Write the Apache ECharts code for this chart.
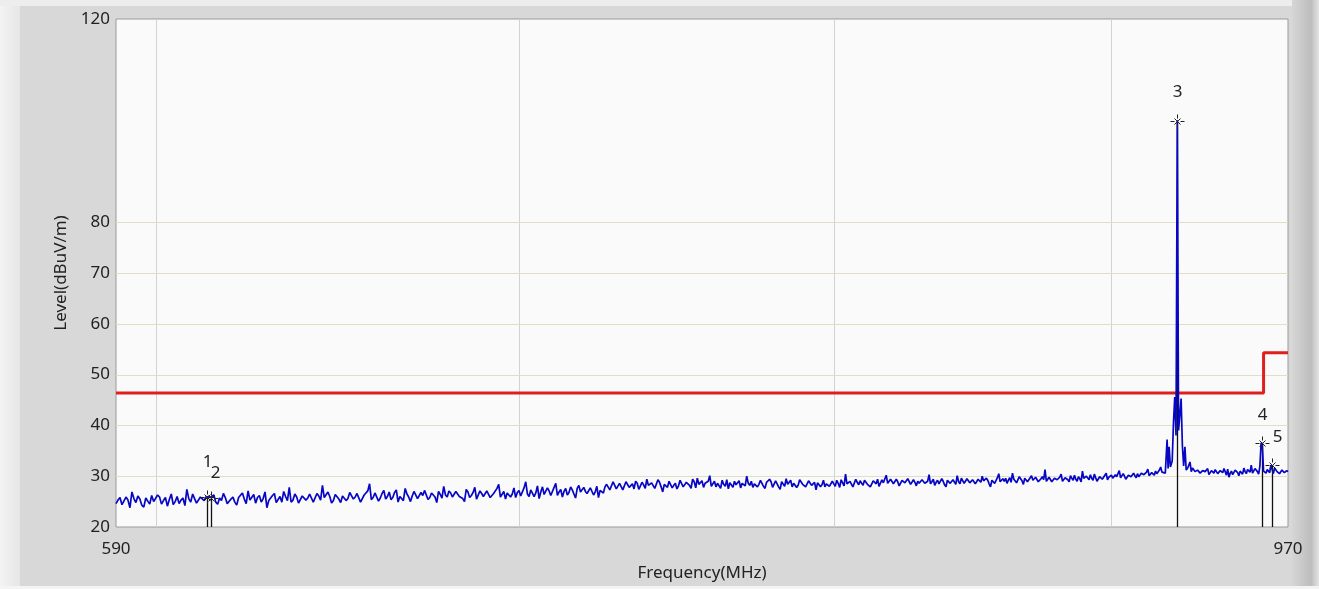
<!DOCTYPE html>
<html><head><meta charset="utf-8">
<script src="https://cdn.jsdelivr.net/npm/echarts@6/dist/echarts.min.js"></script>
<style>html,body{margin:0;padding:0;background:#d8d8d8}#c{width:1319px;height:589px}</style>
</head><body><div id="c"></div>
<script>
// ---------------- data ----------------
const freqMinMHz = 590, freqMaxMHz = 970;
const levelMin = 20, levelMax = 120;
const yTickLabels = [20, 30, 40, 50, 60, 70, 80, 120];
const xTickLabels = [590, 970];
const vGridFreqs = [600, 700, 800, 900];
const hGridLevels = [30, 40, 50, 60, 70, 80];

// measured trace, whole-MHz points 590 .. 919 MHz
const lowTraceStart = 590;
const lowTraceLevels = [
  24.6, 25.8, 24.2, 25.3, 26.9, 24.8, 25.5, 23.9, 25.1, 26.2,
  24.7, 25.9, 25.2, 24.1, 26.5, 25.0, 24.6, 25.7, 27.4, 24.9,
  25.6, 24.8, 26.1, 26.0, 25.8, 26.3, 24.5, 25.2, 25.8, 24.9,
  25.9, 24.3, 26.0, 25.5, 27.1, 25.0, 24.7, 26.2, 25.6, 23.8,
  25.4, 26.6, 25.1, 24.9, 26.0, 27.8, 25.3, 25.9, 24.6, 26.4,
  25.7, 26.3, 24.9, 26.1, 28.2, 25.5, 26.0, 25.2, 26.7, 24.8,
  26.3, 25.6, 27.0, 25.9, 26.5, 24.7, 26.2, 28.5, 25.8, 26.4,
  25.7, 27.2, 26.0, 25.4, 26.8, 24.9, 26.3, 27.6, 25.9, 26.1,
  26.9, 25.3, 26.2, 27.5, 25.8, 26.6, 24.8, 26.4, 28.0, 25.9,
  26.7, 25.6, 27.3, 26.1, 25.0, 26.9, 26.2, 27.8, 25.4, 26.6,
  26.3, 27.4, 25.9, 26.8, 28.4, 26.1, 25.5, 27.0, 26.5, 25.8,
  27.2, 26.4, 28.9, 26.0, 27.5, 26.7, 25.6, 27.9, 26.3, 27.1,
  26.5, 28.6, 26.9, 25.9, 27.6, 26.8, 27.3, 25.7, 28.2, 26.6,
  27.0, 26.4, 27.8, 26.9, 25.8, 27.4, 27.9, 28.3, 27.6, 28.8,
  27.7, 28.4, 27.2, 29.1, 28.0, 27.5, 28.6, 27.1, 28.3, 29.4,
  27.9, 28.5, 27.4, 28.8, 26.9, 28.3, 29.0, 27.7, 28.6, 28.1,
  29.3, 28.0, 28.7, 27.6, 28.9, 29.6, 28.2, 27.8, 28.5, 30.1,
  28.3, 27.9, 28.8, 29.2, 28.0, 27.5, 28.6, 29.0, 28.4, 27.7,
  28.9, 30.0, 28.2, 27.8, 28.7, 28.4, 29.3, 27.6, 28.5, 28.9,
  28.1, 28.8, 27.4, 28.6, 29.5, 28.3, 27.9, 28.7, 28.2, 29.0,
  28.4, 27.7, 28.9, 28.0, 27.3, 28.6, 28.3, 27.9, 28.8, 28.1,
  28.5, 29.2, 27.8, 28.7, 30.4, 28.3, 28.9, 27.6, 28.8, 29.1,
  28.2, 29.0, 28.6, 27.7, 28.9, 29.4, 28.1, 28.7, 30.2, 28.4,
  29.1, 28.3, 28.9, 27.9, 29.3, 28.6, 29.8, 28.2, 28.8, 29.0,
  28.4, 29.5, 28.7, 30.3, 28.9, 28.2, 29.2, 28.6, 29.0, 27.9,
  29.4, 28.7, 29.1, 30.1, 28.5, 29.3, 28.8, 29.6, 28.4, 29.0,
  28.7, 29.5, 30.0, 28.9, 29.2, 27.9, 29.4, 28.8, 30.5, 29.1,
  29.0, 28.6, 29.7, 30.6, 29.2, 28.9, 29.5, 28.4, 29.8, 29.3,
  30.1, 29.0, 29.6, 28.7, 29.9, 31.3, 29.2, 29.5, 28.8, 29.7,
  29.3, 30.4, 29.1, 29.8, 28.9, 29.6, 30.2, 29.0, 29.5, 31.0,
  29.4, 29.9, 30.3, 29.2, 29.7, 28.8, 30.0, 29.5, 30.6, 29.8,
  30.2, 29.5, 29.9, 31.1, 29.6, 30.0, 29.3, 30.4, 29.8, 30.1,
  30.5, 29.8, 30.9, 30.2, 31.4, 30.0, 30.6, 31.0, 30.4, 31.8
];
// half-MHz points 590.5 .. 919.5 MHz
const lowTraceHalfLevels = [
  25.3, 24.4, 25.9, 23.8, 25.6, 26.1, 24.3, 25.7, 24.5, 25.0,
  26.3, 24.5, 25.8, 25.4, 24.4, 26.0, 25.3, 24.2, 25.6, 26.5,
  24.7, 25.9, 25.2, 25.9, 26.0, 24.9, 25.7, 26.6, 24.6, 25.5,
  24.9, 25.8, 26.7, 24.6, 25.3, 26.4, 25.8, 24.9, 26.9, 25.2,
  26.2, 24.8, 26.0, 27.0, 25.2, 24.9, 26.5, 24.7, 26.1, 25.3,
  26.5, 24.9, 26.6, 25.3, 25.8, 26.9, 24.7, 26.4, 25.5, 26.1,
  25.2, 26.8, 25.5, 26.6, 24.9, 26.3, 27.1, 25.4, 26.7, 25.1,
  26.6, 25.5, 26.9, 25.8, 27.3, 26.0, 25.2, 26.5, 25.0, 27.0,
  25.6, 26.8, 27.2, 25.4, 26.7, 25.9, 27.0, 25.7, 26.3, 27.1,
  25.9, 27.0, 26.0, 25.6, 27.4, 25.8, 26.8, 25.5, 27.1, 26.0,
  27.1, 25.8, 26.6, 27.6, 25.9, 27.0, 26.7, 25.9, 27.7, 26.8,
  26.1, 27.7, 26.5, 27.3, 26.0, 28.1, 26.9, 26.4, 27.7, 26.2,
  27.8, 26.2, 27.4, 27.0, 26.3, 27.9, 26.5, 27.6, 26.9, 27.8,
  26.6, 27.7, 26.3, 28.0, 27.2, 26.7, 28.4, 27.3, 28.9, 27.5,
  28.6, 27.3, 28.9, 27.8, 28.5, 29.0, 27.4, 28.8, 27.6, 28.2,
  28.7, 27.6, 29.3, 27.9, 28.4, 27.8, 28.9, 28.2, 27.5, 29.2,
  27.9, 28.8, 28.2, 29.4, 27.7, 28.4, 29.1, 28.6, 29.0, 28.0,
  29.0, 28.6, 27.6, 28.4, 29.3, 28.7, 27.8, 28.3, 29.1, 28.6,
  28.1, 28.6, 29.0, 28.5, 27.9, 29.2, 28.0, 28.8, 29.4, 27.8,
  29.1, 27.9, 28.9, 28.0, 28.4, 29.2, 28.6, 27.8, 29.3, 28.4,
  27.9, 29.1, 28.2, 28.8, 28.7, 27.9, 29.2, 28.5, 28.0, 29.0,
  28.0, 28.6, 29.3, 28.1, 28.5, 29.0, 27.9, 29.4, 28.3, 28.6,
  29.2, 28.4, 27.9, 29.1, 28.5, 28.0, 29.3, 28.4, 28.6, 29.4,
  28.5, 29.4, 28.1, 29.2, 28.7, 29.5, 28.4, 29.3, 28.1, 28.6,
  29.3, 28.6, 29.0, 28.5, 29.4, 28.8, 28.5, 29.5, 28.3, 29.2,
  28.6, 29.3, 28.4, 28.9, 29.6, 28.6, 29.5, 28.7, 29.3, 28.5,
  29.4, 28.8, 29.1, 29.6, 28.5, 29.2, 28.6, 29.7, 28.9, 29.5,
  29.6, 29.2, 28.8, 29.4, 28.7, 29.9, 29.1, 29.6, 28.9, 29.7,
  29.2, 29.8, 28.9, 29.5, 29.3, 29.0, 29.8, 28.9, 29.6, 29.3,
  29.8, 29.0, 29.7, 29.3, 30.1, 29.2, 29.4, 29.9, 28.9, 29.6,
  30.0, 29.3, 29.6, 30.4, 29.0, 29.9, 29.4, 30.2, 29.3, 30.0,
  29.6, 30.3, 29.8, 29.7, 30.5, 29.4, 30.2, 29.9, 30.6, 29.7,
  29.9, 30.6, 30.3, 30.8, 30.1, 30.7, 30.2, 30.5, 31.2, 30.8
];
// emission around 925.5 MHz
const peakFreqs  = [920, 920.8, 921.5, 921.9, 922.3, 922.8, 923.5, 924.0, 924.5, 925.0, 925.5, 926.0, 926.5, 927.0, 927.5, 928.0, 928.5, 929.0, 929.6, 930.5, 931.0, 931.5];
const peakLevels = [31.0, 30.6, 37.2, 31.5, 35.8, 31.8, 33.0, 40.5, 45.6, 38.0, 100.0, 39.0, 42.0, 45.3, 36.0, 32.0, 35.8, 31.2, 31.6, 32.8, 30.9, 31.6];
// whole-MHz points 932 .. 970 MHz
const highTraceStart = 932;
const highTraceLevels = [
  31.3, 30.7, 31.0, 30.5, 31.4, 30.8, 30.3, 31.1, 30.6, 31.2,
  30.4, 30.9, 31.5, 30.2, 29.8, 31.0, 30.6, 31.3, 30.1, 30.8,
  31.6, 30.5, 31.0, 32.2, 30.7, 31.2, 30.4, 36.6, 31.0, 30.6,
  31.2, 32.2, 30.5, 31.4, 30.8, 30.2, 31.1, 30.6, 30.9
];
// half-MHz points 932.5 .. 969.5 MHz
const highTraceHalfLevels = [
  30.9, 31.2, 30.6, 31.1, 30.9, 31.5, 30.7, 30.8, 31.3, 30.5,
  31.1, 30.7, 30.9, 31.4, 30.6, 30.3, 31.2, 30.7, 31.0, 30.4,
  30.9, 31.3, 30.8, 30.6, 31.5, 30.9, 32.0, 36.0, 30.8, 31.3,
  30.7, 32.0, 31.6, 30.9, 30.5, 31.2, 30.7, 31.1
];
// limit line
const limitFreqs  = [590, 960, 960, 970];
const limitLevels = [46.4, 46.4, 54.3, 54.3];
// markers
const markerIds    = ['1', '2', '3', '4', '5'];
const markerFreqs  = [613.1, 614.2, 925.5, 959.4, 963.4];
const markerLevels = [26.0, 25.8, 100.0, 36.6, 32.2];

// ---------------- styles ----------------
const FONT = '"Noto Sans", "Open Sans", sans-serif';
const FS = 17;
const TXT = '#222';
const markerLabelShift = { '1': [0, -35], '2': [4, -25], '3': [0, -29], '4': [0, -28], '5': [5, -28] };

// ---------------- build ----------------
const lx = f => Math.log10(f);
const trace = [];
lowTraceLevels.forEach((v, i) => {
  trace.push([lx(lowTraceStart + i), v]);
  trace.push([lx(lowTraceStart + i + 0.5), lowTraceHalfLevels[i]]);
});
peakFreqs.forEach((f, i) => trace.push([lx(f), peakLevels[i]]));
highTraceLevels.forEach((v, i) => {
  trace.push([lx(highTraceStart + i), v]);
  if (i < highTraceHalfLevels.length) trace.push([lx(highTraceStart + i + 0.5), highTraceHalfLevels[i]]);
});
const limit = limitFreqs.map((f, i) => [lx(f), limitLevels[i]]);
const markers = markerFreqs.map((f, i) => [lx(f), markerLevels[i], i]);

const chart = echarts.init(document.getElementById('c'), null, { renderer: 'canvas' });

function lineEl(p1, p2, stroke, w) {
  return { type: 'line', shape: { x1: p1[0], y1: p1[1], x2: p2[0], y2: p2[1] }, style: { stroke, lineWidth: w } };
}

const option = {
  backgroundColor: '#d8d8d8',
  animation: false,
  graphic: [
    { type: 'rect', shape: { x: 0, y: 0, width: 20, height: 589 }, style: { fill: new echarts.graphic.LinearGradient(0, 0, 1, 0, [{ offset: 0, color: '#f3f3f3' }, { offset: 1, color: '#e6e6e6' }]) }, z: -1 },
    { type: 'rect', shape: { x: 0, y: 0, width: 1319, height: 6 }, style: { fill: '#ededed' }, z: -1 },
    { type: 'rect', shape: { x: 1292, y: 0, width: 27, height: 589 }, style: { fill: new echarts.graphic.LinearGradient(0, 0, 1, 0, [{ offset: 0, color: '#d6d6d6' }, { offset: 0.7, color: '#bdbdbd' }, { offset: 1, color: '#e4e4e4' }]) }, z: -1 },
    { type: 'rect', shape: { x: 0, y: 586, width: 1319, height: 3 }, style: { fill: '#f4f4f4' }, z: -1 }
  ],
  grid: { left: 116, right: 31, top: 19, bottom: 62, show: true, backgroundColor: '#fafafa', borderColor: '#9a9a9a', borderWidth: 1 },
  xAxis: {
    type: 'value', min: lx(freqMinMHz), max: lx(freqMaxMHz),
    name: 'Frequency(MHz)', nameLocation: 'middle', nameGap: 46,
    nameTextStyle: { fontFamily: FONT, fontSize: FS, color: TXT, verticalAlign: 'middle' },
    axisLine: { show: false }, axisTick: { show: false }, splitLine: { show: false },
    axisLabel: {
      showMinLabel: true, showMaxLabel: true, margin: 14,
      fontFamily: FONT, fontSize: FS, color: TXT,
      formatter: v => { const m = xTickLabels.find(f => Math.abs(lx(f) - v) < 1e-6); return m === undefined ? '' : String(m); }
    }
  },
  yAxis: {
    type: 'value', min: levelMin, max: levelMax, interval: 10,
    name: 'Level(dBuV/m)', nameLocation: 'middle', nameGap: 53,
    nameTextStyle: { fontFamily: FONT, fontSize: FS, color: TXT, verticalAlign: 'middle' },
    axisLine: { show: false }, axisTick: { show: false }, splitLine: { show: false },
    axisLabel: {
      margin: 6, fontFamily: FONT, fontSize: FS, color: TXT,
      formatter: v => yTickLabels.includes(v) ? String(v) : ''
    }
  },
  series: [
    {
      type: 'custom', z: 1, silent: true,
      data: vGridFreqs.map(f => [lx(f), levelMin]),
      renderItem: (p, api) => {
        const a = api.coord([api.value(0), levelMin]), b = api.coord([api.value(0), levelMax]);
        const x = Math.round(a[0]) + 0.5;
        return lineEl([x, a[1]], [x, b[1]], '#d2d2d2', 1);
      }
    },
    {
      type: 'custom', z: 1, silent: true,
      data: hGridLevels.map(l => [lx(freqMinMHz), l]),
      renderItem: (p, api) => {
        const a = api.coord([lx(freqMinMHz), api.value(1)]), b = api.coord([lx(freqMaxMHz), api.value(1)]);
        const y = Math.round(a[1]) + 0.5;
        return lineEl([a[0], y], [b[0], y], '#e3ddc4', 1);
      }
    },
    {
      type: 'line', z: 2, silent: true, data: limit, showSymbol: false,
      lineStyle: { color: '#e01e1e', width: 3 }
    },
    {
      type: 'custom', z: 3, silent: true, data: markers,
      renderItem: (p, api) => {
        const a = api.coord([api.value(0), api.value(1)]), b = api.coord([api.value(0), levelMin]);
        const x = Math.round(a[0]) + 0.5;
        return lineEl([x, a[1]], [x, b[1]], '#111', 1.3);
      }
    },
    {
      type: 'line', z: 4, silent: true, data: trace, showSymbol: false, sampling: null,
      lineStyle: { color: '#0606c4', width: 1.7 }
    },
    {
      type: 'custom', z: 5, silent: true, data: markers,
      renderItem: (p, api) => {
        const c = api.coord([api.value(0), api.value(1)]);
        const x = Math.round(c[0]) + 0.5, y = Math.round(c[1]) + 0.5;
        const id = markerIds[api.value(2)];
        const sh = markerLabelShift[id];
        const path = `M${x-7},${y}L${x-3},${y}M${x+3},${y}L${x+7},${y}M${x},${y-7}L${x},${y-3}M${x},${y+3}L${x},${y+7}M${x-3},${y-3}L${x+3},${y+3}M${x-3},${y+3}L${x+3},${y-3}`;
        return {
          type: 'group', children: [
            { type: 'path', shape: { pathData: path }, style: { stroke: '#222', fill: null, lineWidth: 1 } },
            { type: 'text', x: x + sh[0], y: y + sh[1], style: { text: id, fill: TXT, font: FS + 'px ' + FONT, align: 'center', verticalAlign: 'middle', textAlign: 'center', textVerticalAlign: 'middle' } }
          ]
        };
      }
    }
  ]
};
chart.setOption(option);
</script>
</body></html>
